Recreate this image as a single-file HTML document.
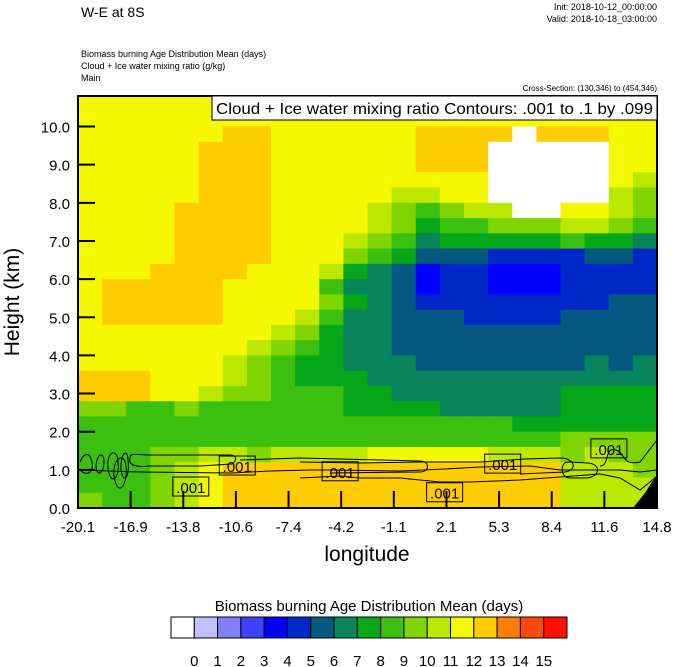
<!DOCTYPE html>
<html><head><meta charset="utf-8"><style>
html,body{margin:0;padding:0;background:#fff;}
svg{display:block;font-family:"Liberation Sans",sans-serif;}
</style></head><body>
<svg id="chart" width="674" height="667" viewBox="0 0 674 667">
<g id="cells"></g>
<g id="contours" fill="none" stroke="#000" stroke-width="1">
<path d="M80,462 C84,452 90,452 92,462 C94,474 86,476 80,470" />
<path d="M96,465 C98,452 104,452 104,462 C104,474 96,478 96,465" />
<path d="M108,468 C106,450 118,448 118,462 C120,480 110,486 108,468" />
<path d="M114,476 C112,460 124,450 126,466 C128,484 118,500 114,476 Z" />
<path d="M121,470 C120,452 128,448 128,460 C130,476 124,486 121,470 Z" />
<path d="M130,458 C130,452 136,455 150,455 L230,455 C236,455 238,460 232,464 L200,466 L150,466 C134,468 128,464 130,458 Z" />
<path d="M78,470 L140,472 L232,473 L270,471 L310,470 L330,470 L400,471 L445,469 L480,467 L530,466 L560,470 L620,470 L640,472 L657,470" />
<path d="M240,460 L300,458 L380,460 L420,461 C430,461 430,472 420,472 L330,473" />
<path d="M300,462 L360,463 L420,462 L480,462 L525,459 L560,458 C575,458 578,470 565,472 L520,474" />
<path d="M568,462 C560,462 560,478 570,478 L585,478 C600,478 602,464 588,463 Z" />
<path d="M360,478 L400,478 L440,482 L470,482 L520,480 L560,477 L600,474 L620,478 L640,490 L650,482 L657,476" />
<path d="M600,466 C610,466 604,446 616,450 C626,454 622,466 640,462 L657,440" />
<path d="M300,478 L340,476 L360,478" />
</g>
<path d="M633,508 L645,493 L652,482 L657,476 L657,508 Z" fill="#000"/>
<g id="labels001"></g>
<rect x="78" y="96" width="579" height="412" fill="none" stroke="#000" stroke-width="2"/>
<g id="axes"></g>
<rect x="212" y="96" width="445" height="24" fill="#fff" stroke="#000" stroke-width="1"/>
<text x="216" y="114" font-size="16" textLength="437" lengthAdjust="spacingAndGlyphs">Cloud + Ice water mixing ratio Contours: .001 to .1 by .099</text>
<text x="81" y="17" font-size="14">W-E at 8S</text>
<text x="657" y="10" font-size="9" text-anchor="end">Init: 2018-10-12_00:00:00</text>
<text x="657" y="22" font-size="9" text-anchor="end">Valid: 2018-10-18_03:00:00</text>
<text x="81" y="57" font-size="9">Biomass burning Age Distribution Mean    (days)</text>
<text x="81" y="69" font-size="9">Cloud + Ice water mixing ratio    (g/kg)</text>
<text x="81" y="81" font-size="9">Main</text>
<text x="657" y="91" font-size="8" text-anchor="end">Cross-Section: (130,346) to (454,346)</text>
<text x="367" y="561" font-size="21" text-anchor="middle">longitude</text>
<text transform="translate(19,302) rotate(-90)" font-size="21" text-anchor="middle">Height (km)</text>
<g id="legend"></g>
<text x="369" y="611" font-size="15" text-anchor="middle">Biomass burning Age Distribution Mean  (days)</text>
</svg>
<script>
// Level colors (index 0..16)
const levelColors = ["#FFFFFF","#C0C0FF","#8080FF","#4040FF","#0000FF","#0028C8","#05587F","#08845A","#05A818","#3CC010","#80D400","#BCE800","#F4F800","#FFCC00","#FF8000","#FF4800","#FF1000"];
const colorbarLabels = ["0","1","2","3","4","5","6","7","8","9","10","11","12","13","14","15"];
const xTickLabels = ["-20.1","-16.9","-13.8","-10.6","-7.4","-4.2","-1.1","2.1","5.3","8.4","11.6","14.8"];
const yTickValues = [0,1,2,3,4,5,6,7,8,9,10];
const lonMin = -20.1, lonMax = 14.8, hMin = 0, hMax = 10.8;
// grid rows top (10.8 km) to bottom, 0.4 km each; 24 longitude columns
const gridRows = [
"cccccccccccccccccccccccc",
"cccccccccccccccccccccccc",
"ccccccddccccccddddWdddcc",
"cccccdddccccccdddWWWWWcc",
"cccccdddccccccdddWWWWWcc",
"cccccdddcccccccccWWWWWcb",
"cccccdddcccccbbccWWWWWba",
"ccccddddccccba9abbWWccba",
"ccccddddccccba899aaabba9",
"ccccddddcccba97888889887",
"ccccddddccca986665555665",
"cccddddcccb8764554445555",
"cdddddcccc97764554445555",
"cdddddcccca8765555555566",
"cdddddcccb97766655556666",
"ccccccccba87766666666666",
"cccccccba987766666666666",
"ccccccba9887776666666767",
"dddcccba9888777777777777",
"dddccbaa9998877777778888",
"aa99a9999998888777778888",
"999999999999999999888888",
"99999999999999999999aaaa",
"999aabbabbbbcccccbbbabaa",
"999abcddddddddddddddbbba",
"999abcddddddddddddddbbbb",
"a99abcddddddddddddddbbbb"
];
const labelBoxes = [[-13.3,0.55],[-10.5,1.1],[-4.3,0.95],[2.0,0.4],[5.5,1.15],[11.9,1.55]];
const NS="http://www.w3.org/2000/svg";
const X0=78,X1=657,Y0=508,Y1=96;
function xScale(v){return X0+(v-lonMin)/(lonMax-lonMin)*(X1-X0);}
function yScale(h){return Y0-(h-hMin)/(hMax-hMin)*(Y0-Y1);}
function mk(tag,attrs,parent){const e=document.createElementNS(NS,tag);for(const k in attrs)e.setAttribute(k,attrs[k]);parent.appendChild(e);return e;}
const codeMap={W:0,a:10,b:11,c:12,d:13};
function lvl(ch){return ch in codeMap?codeMap[ch]:parseInt(ch,10);}
const cells=document.getElementById('cells');
const nCols=gridRows[0].length,nRows=gridRows.length;
const dLon=(lonMax-lonMin)/nCols,dH=(hMax-hMin)/nRows;
gridRows.forEach((row,r)=>{
  for(let c=0;c<nCols;c++){
    const hTop=hMax-r*dH,hBot=hTop-dH;
    const xa=xScale(lonMin+c*dLon),xb=xScale(lonMin+(c+1)*dLon);
    const rc=mk('rect',{x:xa.toFixed(2),y:yScale(hTop).toFixed(2),width:(xb-xa+0.6).toFixed(2),height:(yScale(hBot)-yScale(hTop)+0.6).toFixed(2),fill:levelColors[lvl(row[c])]},cells);
    
    
  }
});
const lb=document.getElementById('labels001');
labelBoxes.forEach(p=>{
  const cx=xScale(p[0]),cy=yScale(p[1]);
  const g=mk('g',{},lb);
  
  
  mk('rect',{x:cx-18,y:cy-10,width:36,height:19,fill:"none",stroke:"#000","stroke-width":1},g);
  const t=mk('text',{x:cx,y:cy+6,"font-size":15,"text-anchor":"middle"},g);
  t.textContent=".001";
});
const ax=document.getElementById('axes');
yTickValues.forEach(v=>{
  const y=yScale(v);
  const l=mk('line',{x1:X0,x2:X0+17,y1:y,y2:y,stroke:"#000","stroke-width":2},ax);
  
  
  const t=mk('text',{x:70,y:y+6,"font-size":15,"text-anchor":"end"},ax);
  
  
  t.textContent=v.toFixed(1);
});
xTickLabels.forEach((s,i)=>{
  const x=X0+i*(X1-X0)/(xTickLabels.length-1);
  const l=mk('line',{x1:x,x2:x,y1:Y0,y2:Y0-17,stroke:"#000","stroke-width":2},ax);
  
  
  const t=mk('text',{x:x,y:532,"font-size":15,"text-anchor":"middle"},ax);
  
  
  t.textContent=s;
});
const lg=document.getElementById('legend');
const cbX=171,cbW=396,cbY=617,cbH=21,bw=cbW/levelColors.length;
levelColors.forEach((col,i)=>{
  const r=mk('rect',{x:cbX+i*bw,y:cbY,width:bw,height:cbH,fill:col,stroke:"#000","stroke-width":1},lg);
  
  
});
colorbarLabels.forEach((s,i)=>{
  const t=mk('text',{x:cbX+(i+1)*bw,y:666,"font-size":15,"text-anchor":"middle"},lg);
  
  
  t.textContent=s;
});
</script>
</body></html>
